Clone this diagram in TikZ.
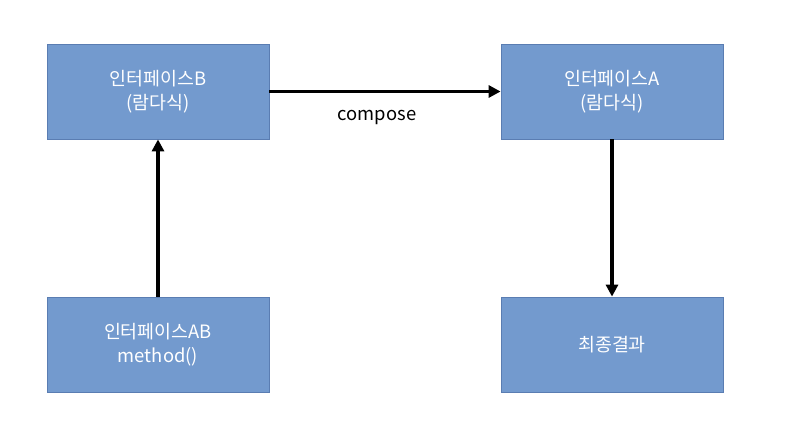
\documentclass[tikz,border=0pt]{standalone}
\usepackage{fontspec}
\setmainfont{Noto Sans CJK KR}
\usetikzlibrary{arrows.meta}
\definecolor{boxfill}{RGB}{115,154,206}
\definecolor{boxline}{RGB}{90,125,178}
\begin{document}
\begin{tikzpicture}[x=0.75pt,y=-0.75pt,
  box/.style={draw=boxline,line width=0.6pt,fill=boxfill,text=white,minimum width=222*0.75pt,minimum height=95*0.75pt,inner sep=0pt,align=center,font=\fontsize{13.8pt}{18pt}\selectfont},
  conn/.style={line width=2.4pt,-{Triangle[length=9pt,width=9pt]}}]
\useasboundingbox[fill=white] (0,0) rectangle (790,440);
\node[box] (b) at (158,91.5) {인터페이스B\\(람다식)};
\node[box] (a) at (612,91.5) {인터페이스A\\(람다식)};
\node[box] (ab) at (158,344.5) {인터페이스AB\\method()};
\node[box] (r) at (612,344.5) {최종결과};
\draw[conn] (ab.north) -- (b.south);
\draw[conn] (b.east) -- (a.west);
\draw[conn] (a.south) -- (r.north);
\node[font=\fontsize{13.8pt}{18pt}\selectfont] (c) at (377,117) {compose};
\end{tikzpicture}
\end{document}
